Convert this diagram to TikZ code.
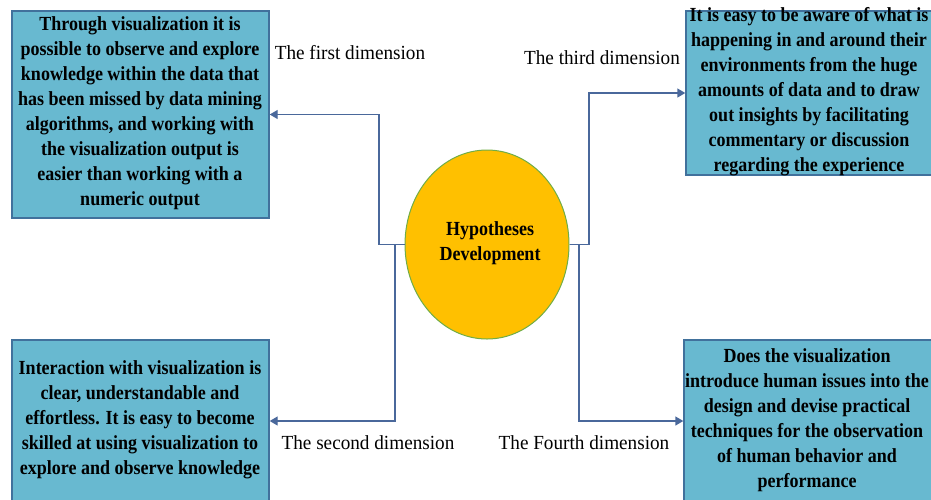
\documentclass[tikz,border=0pt]{standalone}
\usepackage{fontspec}
\setmainfont{Liberation Serif}[FakeStretch=0.9]
\newfontfamily\labfont{Liberation Serif}[FakeStretch=0.96]
\usetikzlibrary{arrows.meta,shapes.geometric}
\definecolor{boxfill}{RGB}{104,185,208}
\definecolor{boxline}{RGB}{65,113,156}
\definecolor{conncol}{RGB}{74,104,155}
\definecolor{gold}{RGB}{255,192,0}
\definecolor{ringcol}{RGB}{112,173,71}
\tikzset{
  box/.style={draw=boxline, line width=1.4pt, fill=boxfill, rectangle, inner sep=0pt},
  boxtext/.style={align=center, inner sep=0pt, font=\fontsize{20}{25}\selectfont\bfseries},
  dimlabel/.style={inner sep=0pt, font=\fontsize{20}{24}\selectfont\labfont},
  conn/.style={draw=conncol, line width=1.4pt, -{Triangle[length=8pt,width=9pt]}},
}
\begin{document}
\begin{tikzpicture}[x=1pt,y=-1pt]
\useasboundingbox (0,0) rectangle (931,499);
\clip (0,0) rectangle (931,499);
% boxes
\node[box, minimum width=257pt, minimum height=207pt] (b1) at (140.5,114.5) {};
\node[box, minimum width=257pt, minimum height=162pt] (b2) at (140.5,421) {};
\node[box, minimum width=254pt, minimum height=164pt] (b3) at (813,93) {};
\node[box, minimum width=258pt, minimum height=162pt] (b4) at (813,421) {};
% box texts
\node[boxtext] (b1t) at (140,113.5) {Through visualization it is\\possible to observe and explore\\knowledge within the data that\\has been missed by data mining\\algorithms, and working with\\the visualization output is\\easier than working with a\\numeric output};
\node[boxtext] (b2t) at (140,420) {Interaction with visualization is\\clear, understandable and\\effortless. It is easy to become\\skilled at using visualization to\\explore and observe knowledge};
\node[boxtext] (b3t) at (809,92) {It is easy to be aware of what is\\happening in and around their\\environments from the huge\\amounts of data and to draw\\out insights by facilitating\\commentary or discussion\\regarding the experience};
\node[boxtext] (b4t) at (807,420) {Does the visualization\\introduce human issues into the\\design and devise practical\\techniques for the observation\\of human behavior and\\performance};
% central ellipse
\node[ellipse, draw=ringcol, line width=1pt, fill=gold, minimum width=164pt, minimum height=189pt, inner sep=0pt] (e) at (487,244.5) {};
\node[boxtext] (et) at (490,243) {Hypotheses\\Development};
% connectors
\coordinate (k1) at (379,244.5);
\coordinate (k2) at (395,244.5);
\coordinate (k3) at (589,244.5);
\coordinate (k4) at (579,244.5);
\draw[conn] (e.west) -- (k1) |- (b1.east);
\draw[conn] (e.west) -- (k2) |- (b2.east);
\draw[conn] (e.east) -- (k3) |- (b3.west);
\draw[conn] (e.east) -- (k4) |- (b4.west);
% labels
\node[dimlabel] (l1) at (350,53) {The first dimension};
\node[dimlabel] (l3) at (602,58) {The third dimension};
\node[dimlabel] (l2) at (368,443) {The second dimension};
\node[dimlabel] (l4) at (584,443) {The Fourth dimension};
\end{tikzpicture}
\end{document}
